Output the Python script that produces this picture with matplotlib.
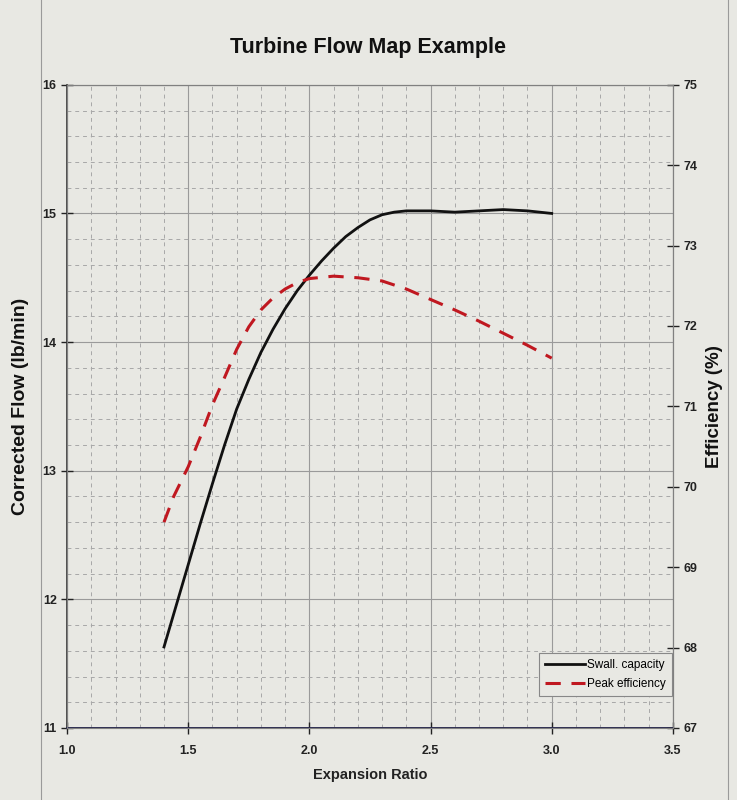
import numpy as np
import matplotlib
matplotlib.use("Agg")
import matplotlib.pyplot as plt
from matplotlib.ticker import MultipleLocator, FormatStrFormatter
from matplotlib.patches import Rectangle

# Data
ratio_swall = [1.40, 1.45, 1.50, 1.55, 1.60, 1.65, 1.70, 1.75, 1.80, 1.85, 1.90, 1.95, 2.00,
               2.05, 2.10, 2.15, 2.20, 2.25, 2.30, 2.35, 2.40, 2.50, 2.60, 2.70, 2.80, 2.90, 3.00]
flow_swall = [11.63, 11.95, 12.27, 12.59, 12.90, 13.20, 13.48, 13.71, 13.92, 14.10, 14.26, 14.40, 14.52,
              14.63, 14.73, 14.82, 14.89, 14.95, 14.99, 15.01, 15.02, 15.02, 15.01, 15.02, 15.03, 15.02, 15.00]

ratio_eff = [1.40, 1.44, 1.50, 1.55, 1.60, 1.65, 1.70, 1.75, 1.80, 1.85, 1.90, 1.95, 2.00,
             2.10, 2.20, 2.30, 2.40, 2.50, 2.60, 2.70, 2.80, 2.90, 3.00]
eff_peak = [69.56, 69.88, 70.25, 70.62, 71.02, 71.36, 71.71, 71.99, 72.20, 72.35, 72.46, 72.54, 72.59,
            72.62, 72.60, 72.56, 72.46, 72.33, 72.20, 72.06, 71.91, 71.76, 71.60]

title = "Turbine Flow Map Example"
xlabel = "Expansion Ratio"
ylabel_left = "Corrected Flow (lb/min)"
ylabel_right = "Efficiency (%)"
series_names = ["Swall. capacity", "Peak efficiency"]

plt.rcParams['font.family'] = ['Liberation Sans', 'DejaVu Sans']

paper = "#e8e8e3"
fig = plt.figure(figsize=(7.37, 8.0), dpi=100, facecolor=paper)
ax = fig.add_axes([0.091, 0.09, 0.822, 0.804])
ax.set_facecolor(paper)

ax.set_xlim(1.0, 3.5)
ax.set_ylim(11, 16)
ax.xaxis.set_major_locator(MultipleLocator(0.5))
ax.xaxis.set_minor_locator(MultipleLocator(0.1))
ax.yaxis.set_major_locator(MultipleLocator(1))
ax.yaxis.set_minor_locator(MultipleLocator(0.2))
ax.grid(which="major", color="#9a9a9a", linewidth=0.8, linestyle="-")
ax.grid(which="minor", color="#a8a8a8", linewidth=0.7, linestyle=(0, (4, 4)))
ax.set_axisbelow(True)
ax.xaxis.set_major_formatter(FormatStrFormatter("%.1f"))

ax2 = ax.twinx()
ax2.set_ylim(67, 75)
ax2.yaxis.set_major_locator(MultipleLocator(1))

l1, = ax.plot(ratio_swall, flow_swall, color="#111111", linewidth=2.0,
              solid_joinstyle="round", label=series_names[0])
l2, = ax2.plot(ratio_eff, eff_peak, color="#c01820", linewidth=2.2, linestyle=(0, (5, 3.5)),
               dash_joinstyle="round", label=series_names[1])

for a in (ax, ax2):
    for s in a.spines.values():
        s.set_color("#808080")
        s.set_linewidth(0.8)
ax.spines["left"].set_color("#333333")
ax.spines["left"].set_linewidth(1.2)
ax.spines["bottom"].set_color("#2a2a50")
ax.spines["bottom"].set_linewidth(1.4)

ax.tick_params(axis="both", which="major", direction="inout", length=8, width=1, labelsize=9, colors="#222222")
ax.tick_params(axis="both", which="minor", length=0)
ax.tick_params(axis="x", pad=8)
ax2.tick_params(axis="y", which="major", direction="inout", length=8, width=1, labelsize=9, colors="#222222")
for lab in ax.get_xticklabels() + ax.get_yticklabels() + ax2.get_yticklabels():
    lab.set_fontweight("bold")

ax.set_xlabel(xlabel, fontsize=10.5, fontweight="bold", labelpad=8, color="#222222")
ax.set_ylabel(ylabel_left, fontsize=14, fontweight="bold", labelpad=10, color="#111111")
ax2.set_ylabel(ylabel_right, fontsize=13.5, fontweight="bold", labelpad=6, color="#111111")
fig.text(0.5, 0.94, title, ha="center", va="center", fontsize=15.5, fontweight="bold", color="#111111")

leg = ax2.legend(handles=[l1, l2], loc="lower right", bbox_to_anchor=(0.998, 0.05),
                 fontsize=8.5, frameon=True, fancybox=False, handlelength=3.4,
                 borderpad=0.5, labelspacing=0.6, handletextpad=0.2, borderaxespad=0.0)
leg.get_frame().set_edgecolor("#888888")
leg.get_frame().set_facecolor(paper)
leg.get_frame().set_alpha(1)
leg.get_frame().set_linewidth(0.8)

# paper border
fig.patches.append(Rectangle((0.055, -0.01), 0.933, 1.05, transform=fig.transFigure,
                             fill=False, edgecolor="#9a9a9a", linewidth=0.8))

fig.savefig("out.png", dpi=100, facecolor=paper)
